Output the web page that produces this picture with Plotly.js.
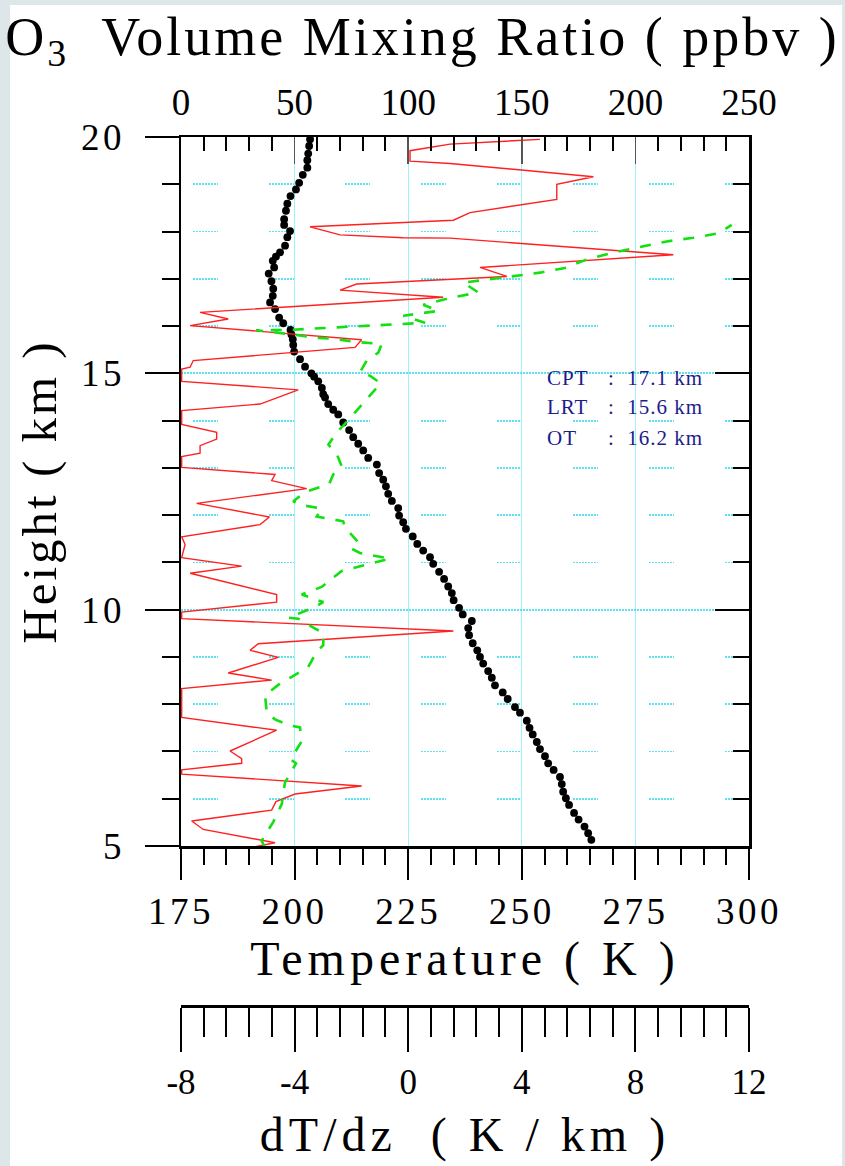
<!DOCTYPE html>
<html>
<head>
<meta charset="utf-8">
<script src="https://cdn.plot.ly/plotly-3.0.1.min.js"></script>
<style>
  html, body { margin:0; padding:0; width:845px; height:1166px; overflow:hidden; background:#dde6e8; }
  #panel { position:absolute; left:10px; top:5px; width:832px; height:1161px; background:#ffffff; }
  #chart { position:absolute; left:0; top:0; width:845px; height:1166px; }
  .xtitle, .x3title { letter-spacing:5px; }
  .ytitle { letter-spacing:3px; }
  .gtitle { letter-spacing:3px; }
  .xaxislayer-above text, .yaxislayer-above text { letter-spacing:3.5px; }
  .annotation-text { letter-spacing:1px; }
</style>
</head>
<body>
<div id="panel"></div>
<div id="chart"></div>
<script>
// ---- Temperature profile (black dots) ----
const tempHeight = [5.13,5.27,5.41,5.56,5.70,5.87,6.01,6.15,6.31,6.46,6.61,6.75,6.90,7.05,7.20,7.36,7.50,7.65,7.82,7.94,
  8.11,8.25,8.40,8.56,8.70,8.86,9.00,9.14,9.29,9.46,9.61,9.76,9.90,10.04,10.20,10.35,10.49,10.65,10.80,10.97,
  11.11,11.25,11.39,11.55,11.71,11.85,11.99,12.15,12.30,12.45,12.61,12.75,12.89,13.07,13.21,13.37,13.51,13.65,13.80,13.96,
  14.13,14.23,14.35,14.49,14.56,14.69,14.83,14.93,15.00,15.14,15.30,15.46,15.60,15.72,15.82,15.92,16.06,16.18,16.36,16.50,
  16.64,16.79,16.95,17.11,17.24,17.38,17.47,17.56,17.70,17.88,18.01,18.14,18.26,18.44,18.59,18.75,18.89,19.03,19.20,19.35,
  19.51,19.65,19.81,19.95];
const temperatureK = [265.3,264.6,263.8,262.5,261.5,260.4,259.7,259.1,258.8,258.4,257.0,255.8,255.1,254.0,253.3,252.4,251.7,251.1,249.6,248.5,
  246.9,245.8,244.1,243.4,242.6,241.5,240.8,240.2,239.2,238.4,238.2,239.0,237.0,236.2,235.0,234.6,233.8,232.9,231.8,230.5,
  229.8,228.3,227.0,226.0,224.5,223.9,223.0,222.8,221.4,220.6,220.1,219.5,218.6,218.1,216.2,215.1,214.0,212.9,212.0,210.7,
  209.6,208.5,207.4,206.7,206.3,206.0,205.2,204.3,203.7,202.3,201.2,199.9,199.7,199.6,199.3,199.1,197.5,196.6,195.7,194.6,
  195.2,195.3,194.9,194.3,195.5,195.2,195.9,196.8,197.9,198.4,199.0,197.7,197.7,198.1,198.4,199.1,200.3,201.0,201.8,202.8,
  202.8,203.0,203.2,203.4];

// ---- O3 volume mixing ratio (red line) ----
const o3Height = [4.97,5.07,5.35,5.53,5.76,5.94,6.10,6.27,6.52,6.61,6.75,6.85,7.01,7.45,7.72,8.33,8.51,8.66,8.99,9.14,
  9.28,9.55,9.81,9.95,10.16,10.32,10.77,10.92,11.10,11.38,11.54,11.80,11.96,12.25,12.56,12.73,12.86,13.01,13.24,13.31,
  13.47,13.61,13.75,13.92,14.21,14.35,14.65,14.83,15.09,15.13,15.27,15.55,15.71,16.01,16.15,16.29,16.61,16.76,16.89,17.05,
  17.24,17.51,17.86,17.87,17.93,18.10,18.24,18.40,18.68,19.00,19.16,19.44,19.49,19.71,19.85,19.95];
const o3Ppbv = [31.1,41.4,9.8,4.7,39.9,41.8,50.2,79.5,0.3,0.3,26.7,26.7,21.6,42.1,0.3,0.3,39.9,20.8,42.8,30.4,
  34.0,119.9,0.3,0.3,42.1,42.1,4.0,26.7,0.3,1.8,0.3,34.8,38.9,6.9,55.3,39.9,41.4,0.3,0.3,8.4,
  8.4,15.7,15.7,0.3,0.3,34.8,51.6,0.3,0.3,4.0,5.4,76.6,79.5,4.0,20.8,8.4,115.4,70.0,77.3,143.4,
  131.6,216.7,118.4,97.8,70.0,56.8,119.9,127.2,165.4,165.4,181.5,118.4,100.8,100.8,118.4,158.0];

// ---- Lapse rate dT/dz (green dashed) ----
const lapseHeight = [4.96,5.11,5.51,5.89,6.34,6.75,6.83,7.22,7.51,7.56,7.68,7.82,8.19,8.44,8.58,8.79,9.11,9.25,9.51,9.60,
  9.81,9.83,10.04,10.16,10.32,10.48,10.82,11.08,11.20,11.29,11.43,11.74,11.87,11.97,12.14,12.20,12.29,12.49,12.66,12.86,
  13.03,13.30,13.49,13.75,13.93,14.21,14.37,14.60,14.79,14.95,15.02,15.27,15.44,15.62,15.66,15.73,15.75,15.88,15.91,15.92,
  16.07,16.22,16.32,16.45,16.61,16.71,16.92,16.99,17.06,17.13,17.23,17.42,17.56,17.68,17.79,17.87,17.96,18.14];
const lapseRate = [-5.04,-5.16,-4.75,-4.45,-4.34,-3.95,-4.14,-3.75,-3.81,-4.22,-4.69,-4.98,-5.04,-4.51,-4.10,-3.52,-3.22,-2.99,-2.99,-3.28,
  -3.87,-4.22,-3.34,-2.99,-3.75,-3.05,-2.34,-0.64,-1.70,-1.99,-1.76,-2.23,-2.29,-3.22,-3.05,-3.63,-4.05,-3.63,-2.78,-2.64,
  -2.34,-2.52,-2.81,-2.52,-2.23,-1.81,-1.60,-1.23,-0.97,-1.35,-1.70,-1.46,-1.05,-0.93,-1.76,-2.64,-3.17,-4.87,-5.36,-4.16,
  0.59,-0.17,1.06,0.53,1.59,2.47,1.94,2.88,3.76,4.64,5.52,6.34,7.28,8.22,9.10,10.04,10.92,11.39];

// ---- Tick labels ----
const lapseTickVals = [-8, -4, 0, 4, 8, 12];
const lapseTickText = ['-8', '-4', '0', '4', '8', '12'];

// ---- Text ----
const mainTitle = 'O<sub>3</sub>  Volume Mixing Ratio ( ppbv )';
const tempTitle = 'Temperature ( K )';
const heightTitle = 'Height ( km )';
const lapseTitle = 'dT/dz  ( K / km )';
const infoLabels = ['CPT', 'LRT', 'OT'];
const infoValues = [':  17.1 km', ':  15.6 km', ':  16.2 km'];
const infoAnchorT = [255.1, 255.1, 255.1];
const infoValueT = [268.6, 268.6, 268.6];
const infoAnchorH = [14.91, 14.28, 13.63];

const SERIF = 'Liberation Serif, Times New Roman, serif';
const CYAN = '#9ef1f6';
const CYAN_DOT = '#5fe2f0';

const traces = [
  { type:'scatter', mode:'lines', x:o3Ppbv, y:o3Height, xaxis:'x2', yaxis:'y',
    line:{color:'#ff2020', width:1.4}, hoverinfo:'skip', showlegend:false },
  { type:'scatter', mode:'lines', x:lapseRate, y:lapseHeight, xaxis:'x3', yaxis:'y',
    line:{color:'#12e012', width:2.6, dash:'11px,11px'}, hoverinfo:'skip', showlegend:false },
  { type:'scatter', mode:'markers', x:temperatureK, y:tempHeight, xaxis:'x', yaxis:'y',
    marker:{color:'#000000', size:7.8}, hoverinfo:'skip', showlegend:false },
  { type:'scatter', mode:'markers', x:temperatureK, y:tempHeight, xaxis:'x', yaxis:'y2',
    marker:{opacity:0}, hoverinfo:'skip', showlegend:false }
];

// custom dash for the short dotted gridline segments at each km
let seg = '0px,12px';
for (let i = 0; i < 8; i++) seg += ',1.5px,1.5px';
seg += ',1px,39px';

const annotations = [];
for (let i = 0; i < infoLabels.length; i++) {
  annotations.push({ xref:'x', yref:'y', x:infoAnchorT[i], y:infoAnchorH[i], text:infoLabels[i],
    showarrow:false, xanchor:'left', yanchor:'middle', font:{family:SERIF, size:21, color:'#1c1c8c'} });
  annotations.push({ xref:'x', yref:'y', x:infoValueT[i], y:infoAnchorH[i], text:infoValues[i],
    showarrow:false, xanchor:'left', yanchor:'middle', font:{family:SERIF, size:21, color:'#1c1c8c'} });
}

const layout = {
  width:845, height:1166,
  margin:{l:181, r:96, t:137, b:160, pad:0},
  paper_bgcolor:'rgba(0,0,0,0)', plot_bgcolor:'#ffffff',
  font:{family:SERIF, color:'#000000'},
  showlegend:false,
  title:{ text:mainTitle, x:0.5, xref:'container', xanchor:'center', y:0.969, yref:'container', yanchor:'middle',
    font:{family:SERIF, size:54, color:'#000000'} },
  xaxis:{ range:[175,300], domain:[0,1], anchor:'y', side:'bottom',
    tick0:175, dtick:25, ticks:'outside', ticklen:31, tickwidth:2, tickcolor:'#000',
    showline:true, linewidth:2.5, linecolor:'#000', zeroline:false,
    showgrid:true, gridcolor:CYAN, gridwidth:1.2,
    tickfont:{family:SERIF, size:37, color:'#000'}, ticklabelstandoff:0,
    minor:{dtick:5, ticks:'outside', ticklen:16, tickwidth:2, tickcolor:'#000', showgrid:false},
    title:{text:tempTitle, font:{family:SERIF, size:48, color:'#000'}, standoff:2} },
  xaxis2:{ range:[0,250], overlaying:'x', anchor:'y', side:'top',
    tick0:0, dtick:50, ticks:'inside', ticklen:27, tickwidth:1.5, tickcolor:'#555',
    showline:true, linewidth:2.5, linecolor:'#000', zeroline:false, showgrid:false,
    tickfont:{family:SERIF, size:37, color:'#000'}, ticklabelstandoff:5,
    minor:{dtick:10, ticks:'inside', ticklen:14, tickwidth:2, tickcolor:'#000', showgrid:false} },
  xaxis3:{ range:[-8,12], overlaying:'x', anchor:'free', position:0, side:'bottom',
    tickmode:'array', tickvals:lapseTickVals, ticktext:lapseTickText,
    ticks:'outside', ticklen:44, tickwidth:2, tickcolor:'#000',
    showline:true, linewidth:2.5, linecolor:'#000', zeroline:false, showgrid:false,
    tickfont:{family:SERIF, size:35, color:'#000'}, ticklabelstandoff:0,
    minor:{tick0:-8, dtick:0.8, ticks:'outside', ticklen:29, tickwidth:2, tickcolor:'#000', showgrid:false},
    title:{text:lapseTitle, font:{family:SERIF, size:48, color:'#000'}, standoff:16} },
  yaxis:{ range:[5,20], domain:[160/869, 1], anchor:'x', side:'left',
    tick0:5, dtick:5, ticks:'outside', ticklen:34, tickwidth:2, tickcolor:'#000',
    showline:true, linewidth:2.5, linecolor:'#000', zeroline:false,
    showgrid:true, gridcolor:CYAN_DOT, gridwidth:1.8, griddash:'1.5px,1.5px',
    tickfont:{family:SERIF, size:37, color:'#000'}, ticklabelstandoff:12,
    minor:{dtick:1, ticks:'outside', ticklen:17, tickwidth:2, tickcolor:'#000',
      showgrid:true, gridcolor:CYAN_DOT, gridwidth:1.8, griddash:seg},
    title:{text:heightTitle, font:{family:SERIF, size:49, color:'#000'}, standoff:16} },
  yaxis2:{ range:[5,20], overlaying:'y', anchor:'x', side:'right',
    tick0:5, dtick:5, ticks:'inside', ticklen:34, tickwidth:2, tickcolor:'#000',
    showline:true, linewidth:2.5, linecolor:'#000', zeroline:false, showgrid:false,
    showticklabels:false,
    minor:{dtick:1, ticks:'inside', ticklen:16, tickwidth:2, tickcolor:'#000', showgrid:false} },
  annotations:annotations
};

Plotly.newPlot('chart', traces, layout, {displayModeBar:false, staticPlot:true});
</script>
</body>
</html>
